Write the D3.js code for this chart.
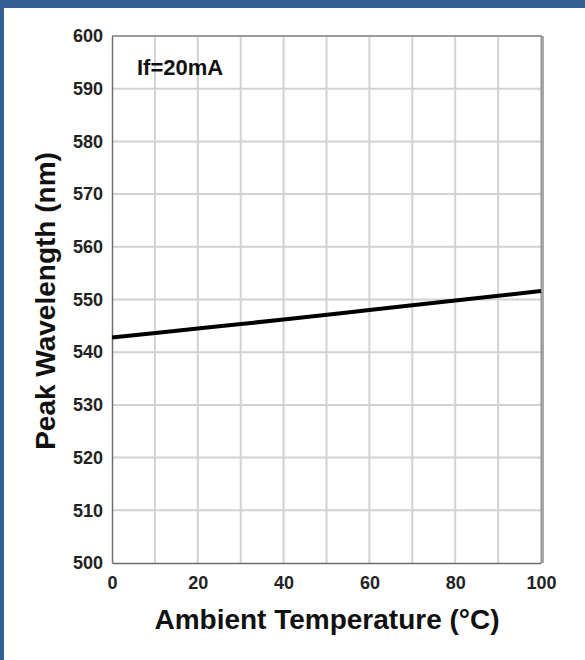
<!DOCTYPE html>
<html>
<head>
<meta charset="utf-8">
<script src="https://cdn.jsdelivr.net/npm/d3@7"></script>
<style>
  html, body { margin: 0; padding: 0; background: #fff; }
  svg { display: block; font-family: "Liberation Sans", Arial, sans-serif; }
</style>
</head>
<body>
<div id="chart"></div>
<script>
// chart values
var temps = [0, 20, 40, 60, 80, 100];
var wavelength = [542.8, 544.5, 546.2, 548.0, 549.8, 551.6];
var yTicks = [500, 510, 520, 530, 540, 550, 560, 570, 580, 590, 600];
var xTicks = [0, 20, 40, 60, 80, 100];
var xGrid = [10, 20, 30, 40, 50, 60, 70, 80, 90];
var note = 'If=20mA';

var width = 585, height = 660;
var margin = {top: 36, right: 44, bottom: 97, left: 112};
var w = width - margin.left - margin.right,
    h = height - margin.top - margin.bottom;

var svg = d3.select('#chart').append('svg')
  .attr('width', width)
  .attr('height', height);

// blue frame on top and left
svg.append('rect').attr('x', 0).attr('y', 0).attr('width', width).attr('height', 8).attr('fill', '#335f95');
svg.append('rect').attr('x', 0).attr('y', 0).attr('width', 4).attr('height', height).attr('fill', '#335f95');

var g = svg.append('g')
  .attr('transform', 'translate(' + margin.left + ',' + margin.top + ')');

var x = d3.scaleLinear().domain([0, 100]).range([0, w]);
var y = d3.scaleLinear().domain([500, 600]).range([h, 0]);

// grid
g.append('g')
  .selectAll('line.vg')
  .data(xGrid)
  .enter().append('line')
  .attr('class', 'vg')
  .attr('x1', function(d) { return x(d); })
  .attr('x2', function(d) { return x(d); })
  .attr('y1', 0).attr('y2', h)
  .attr('stroke', '#d2d2d2').attr('stroke-width', 2);

g.append('g')
  .selectAll('line.hg')
  .data(yTicks.slice(1, -1))
  .enter().append('line')
  .attr('class', 'hg')
  .attr('x1', 0).attr('x2', w)
  .attr('y1', function(d) { return y(d); })
  .attr('y2', function(d) { return y(d); })
  .attr('stroke', '#d2d2d2').attr('stroke-width', 2);

// top and right frame, with a bit of shadow
g.append('line').attr('x1', 0).attr('x2', w + 1).attr('y1', 0).attr('y2', 0)
  .attr('stroke', '#9a9a9a').attr('stroke-width', 2);
g.append('line').attr('x1', w + 1.5).attr('x2', w + 1.5).attr('y1', 0).attr('y2', h)
  .attr('stroke', '#a8a8a8').attr('stroke-width', 3);
g.append('line').attr('x1', w).attr('x2', w).attr('y1', 0).attr('y2', h)
  .attr('stroke', '#888').attr('stroke-width', 1);

// axes
var yAxis = g.append('g')
  .call(d3.axisLeft(y).tickValues(yTicks).tickSize(0).tickPadding(9).tickFormat(d3.format('d')));
var xAxis = g.append('g')
  .attr('transform', 'translate(0,' + h + ')')
  .call(d3.axisBottom(x).tickValues(xTicks).tickSize(0).tickPadding(13).tickFormat(d3.format('d')));

[xAxis, yAxis].forEach(function(a) {
  a.select('.domain').attr('stroke', '#6e6e6e').attr('stroke-width', 1.5);
  a.selectAll('text')
    .attr('fill', '#222')
    .style('font-size', '18px')
    .style('font-weight', 'bold');
});

// the curve
var line = d3.line()
  .x(function(d, i) { return x(temps[i]); })
  .y(function(d) { return y(d); })
  .curve(d3.curveMonotoneX);

g.append('path')
  .datum(wavelength)
  .attr('d', line)
  .attr('fill', 'none')
  .attr('stroke', '#000')
  .attr('stroke-width', 4);

// condition note
g.append('text')
  .attr('x', 25).attr('y', 39)
  .attr('fill', '#111')
  .style('font-size', '22px')
  .style('font-weight', 'bold')
  .text(note);

// axis titles
svg.append('text')
  .attr('x', 327).attr('y', 629)
  .attr('text-anchor', 'middle')
  .attr('fill', '#111')
  .style('font-size', '28px')
  .style('font-weight', 'bold')
  .text('Ambient Temperature (°C)');

svg.append('text')
  .attr('transform', 'translate(55,301) rotate(-90)')
  .attr('text-anchor', 'middle')
  .attr('fill', '#111')
  .style('font-size', '28px')
  .style('font-weight', 'bold')
  .text('Peak Wavelength (nm)');
</script>
</body>
</html>
